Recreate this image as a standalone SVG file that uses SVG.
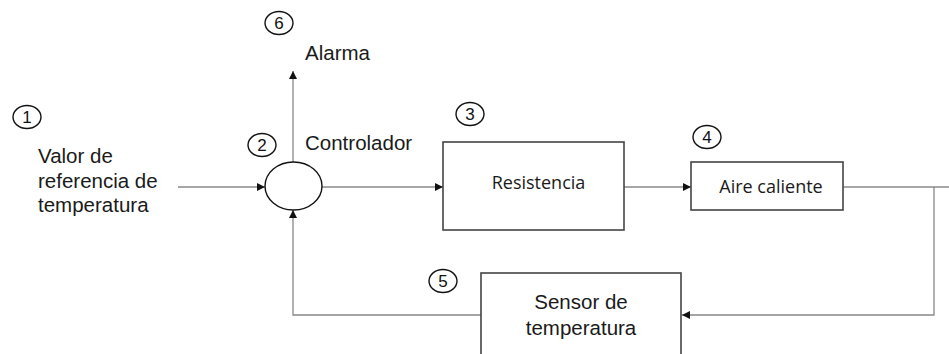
<svg xmlns="http://www.w3.org/2000/svg" width="949" height="354" viewBox="0 0 949 354">
<style>
.t{font-family:"Liberation Sans",Arial,sans-serif;font-size:20.5px;fill:#1a1a1a}
.s{font-family:"Open Sans","Noto Sans",sans-serif;font-size:18px;fill:#1a1a1a}
.n{font-family:"Liberation Sans",Arial,sans-serif;font-size:17px;fill:#111;text-anchor:middle}
.c{fill:none;stroke:#111;stroke-width:1.4}
.box{fill:#fff;stroke:#444;stroke-width:1.6}
.ln{fill:none;stroke:#888;stroke-width:1.3}
</style>
<defs>
<marker id="ah" viewBox="0 0 8 8" refX="8" refY="4" markerWidth="8" markerHeight="8" markerUnits="userSpaceOnUse" orient="auto">
<path d="M0,0 L8,4 L0,8 Z" fill="#111"/>
</marker>
</defs>
<rect width="949" height="354" fill="#fff"/>
<g id="connectors">
<line class="ln" x1="178" y1="187" x2="265" y2="187" marker-end="url(#ah)"/>
<line class="ln" x1="293" y1="162" x2="293" y2="71" marker-end="url(#ah)"/>
<line class="ln" x1="322" y1="187" x2="443" y2="187" marker-end="url(#ah)"/>
<line class="ln" x1="624" y1="187" x2="691" y2="187" marker-end="url(#ah)"/>
<polyline class="ln" points="843,187 949,187"/>
<polyline class="ln" points="934,187 934,315 682,315" marker-end="url(#ah)"/>
<polyline class="ln" points="481,315 293,315 293,210" marker-end="url(#ah)"/>
</g>
<g id="n1"><ellipse class="c" cx="27" cy="117" rx="14" ry="11.5"/><text class="n" x="27" y="123">1</text></g>
<g id="input"><text class="t" x="38" y="163">Valor de</text><text class="t" x="38" y="188">referencia de</text><text class="t" x="38" y="212">temperatura</text></g>
<g id="n6"><ellipse class="c" cx="279" cy="23" rx="14" ry="11.5"/><text class="n" x="279" y="29">6</text></g>
<g id="alarma"><text class="t" x="305" y="60">Alarma</text></g>
<g id="n2"><ellipse class="c" cx="262" cy="145" rx="14" ry="11.5"/><text class="n" x="262" y="151">2</text></g>
<g id="controlador"><ellipse class="c" cx="293.5" cy="186" rx="28.5" ry="24" fill="#fff"/><text class="t" x="305" y="150">Controlador</text></g>
<g id="n3"><ellipse class="c" cx="470" cy="114" rx="14" ry="11.5"/><text class="n" x="470" y="120">3</text></g>
<g id="resistencia"><rect class="box" x="443" y="142" width="181" height="88"/><text class="s" x="538.5" y="189" text-anchor="middle">Resistencia</text></g>
<g id="n4"><ellipse class="c" cx="707" cy="137" rx="14" ry="11.5"/><text class="n" x="707" y="143">4</text></g>
<g id="aire"><rect class="box" x="691" y="162" width="152" height="48"/><text class="s" x="771" y="193" text-anchor="middle">Aire caliente</text></g>
<g id="n5"><ellipse class="c" cx="443" cy="281" rx="14" ry="11.5"/><text class="n" x="443" y="287">5</text></g>
<g id="sensor"><rect class="box" x="481" y="273" width="200" height="90"/><text class="t" x="581" y="309" text-anchor="middle">Sensor de</text><text class="t" x="581" y="335" text-anchor="middle">temperatura</text></g>
</svg>
